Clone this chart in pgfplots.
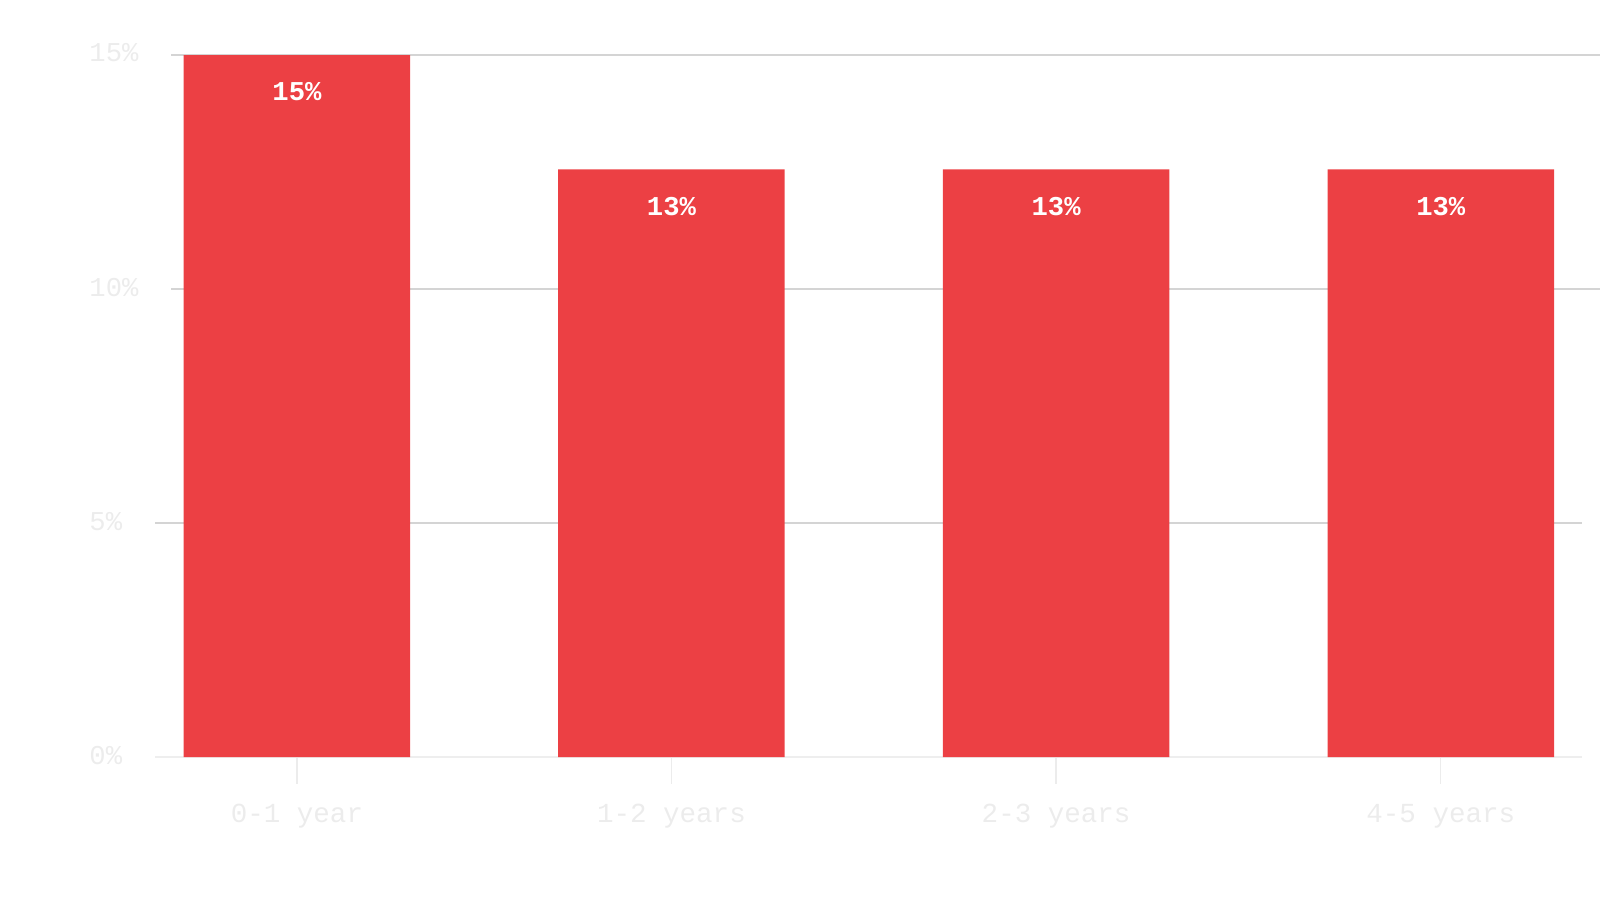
\documentclass[border=0pt]{standalone}
\usepackage{fontspec}
\setmainfont{Liberation Mono}
\usepackage{pgfplots}
\pgfplotsset{compat=1.18}
\definecolor{barred}{RGB}{236,64,68}
\definecolor{gridgray}{RGB}{212,212,212}
\definecolor{labelgray}{RGB}{236,236,236}
\definecolor{axisgray}{RGB}{238,238,238}

\begin{document}
\begin{tikzpicture}[x=0.3pt,y=0.3pt]
% axis origin sits at picture pixel (152,742) of a 1568x899 frame
\begin{axis}[%
at={(0,0)},
anchor=origin,
width=419.4pt,
height=206.4pt,
scale only axis,
set layers,
xmin=152, xmax=1550,
ymin=0, ymax=15,
ybar,
bar width=222,
bar shift=0pt,
axis x line*=bottom,
axis y line=none,
x axis line style={draw=axisgray},
xtick={291,658,1035,1412},
xticklabels={0-1 year,1-2 years,2-3 years,4-5 years},
xtick style={draw=labelgray, line width=0.4pt},
tick align=outside,
major tick length=7.8pt,
xticklabel style={font=\fontsize{8.1}{9}\selectfont, text=labelgray, yshift=-2.4pt},
/pgf/number format/assume math mode=true,
nodes near coords={\pgfmathprintnumber[fixed,precision=0]{\pgfplotspointmeta}\%},
nodes near coords style={font=\bfseries\fontsize{8}{9}\selectfont, text=white, anchor=center, yshift=-10.8pt},
clip=false
]
% grid lines, behind the bars
\draw[on layer=axis background, gridgray, line width=0.5pt] (axis cs:168,15) -- (axis cs:1568,15);
\draw[on layer=axis background, gridgray, line width=0.5pt] (axis cs:168,10) -- (axis cs:1568,10);
\draw[on layer=axis background, gridgray, line width=0.5pt] (axis cs:152,5) -- (axis cs:1550,5);
\addplot [fill=barred, draw=none] coordinates {
(291,15) (658,12.56) (1035,12.56) (1412,12.56)
};
% y tick labels, left aligned as in the reference
\pgfplotsinvokeforeach{0,5,10,15}{
  \node[anchor=west, inner sep=0pt, font=\fontsize{8}{9}\selectfont, text=labelgray]
    at (axis cs:152,#1) [xshift=-19.5pt, yshift=0.6pt] {#1\%};
}
\end{axis}
\pgfresetboundingbox
\path[use as bounding box] (-152,-157) rectangle (1416,742);
\end{tikzpicture}
\end{document}
